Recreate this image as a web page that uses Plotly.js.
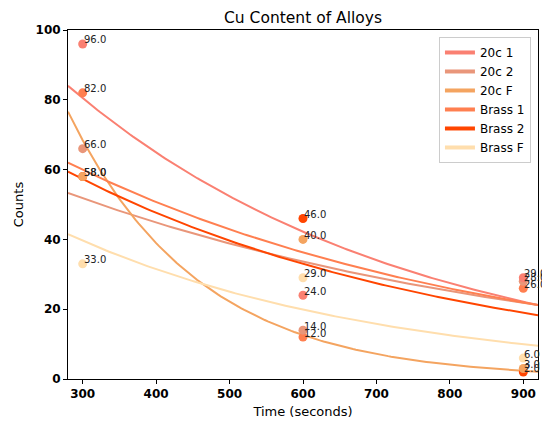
<!DOCTYPE html>
<html>
<head>
<meta charset="utf-8">
<script src="https://cdn.plot.ly/plotly-3.0.1.min.js"></script>
<style>
  html, body { margin: 0; padding: 0; background: #fff; }
  #chart { width: 542px; height: 424px; }
</style>
</head>
<body>
<div id="chart"></div>
<script>
// ---- data ----
const times = [300, 600, 900];
const seriesNames = ["20c 1", "20c 2", "20c F", "Brass 1", "Brass 2", "Brass F"];

const cu20c1 = [96, 24, 29];
const cu20c2 = [66, 14, 28];
const cu20cF = [58, 40, 3];
const cuBrass1 = [82, 12, 26];
const cuBrass2 = [58, 46, 2];
const cuBrassF = [33, 29, 6];

// exponential fit curves: value at t = 280 s and decay rate (1/s)
const fitAt280 = [84.0, 53.3, 76.6, 62.0, 59.4, 41.5];
const fitDecay = [0.002151, 0.001441, 0.00564, 0.001677, 0.00184, 0.002304];
const fitT0 = 280, fitT1 = 920;

// ---- styles ----
const colors = ["#fa8072", "#e9967a", "#f4a460", "#ff7f50", "#ff4500", "#ffdead"];
const allSeries = [cu20c1, cu20c2, cu20cF, cuBrass1, cuBrass2, cuBrassF];
const FONT = "DejaVu Sans, Verdana, sans-serif";

const traces = [];
const annotations = [];

// fitted curves
allSeries.forEach((vals, i) => {
  const xs = [], ys = [];
  for (let t = fitT0; t <= fitT1; t += 4) {
    xs.push(t);
    ys.push(fitAt280[i] * Math.exp(-fitDecay[i] * (t - fitT0)));
  }
  traces.push({
    x: xs, y: ys, type: "scatter", mode: "lines",
    line: { color: colors[i], width: 2 },
    showlegend: false, hoverinfo: "skip"
  });
});

// data points (drawing order chosen so overlaps look like the reference)
const drawOrder = [5, 4, 3, 1, 0, 2];
drawOrder.forEach(i => {
  traces.push({
    x: times, y: allSeries[i], type: "scatter", mode: "markers",
    marker: { color: colors[i], size: 9 },
    showlegend: false, cliponaxis: false
  });
  allSeries[i].forEach((v, j) => {
    annotations.push({
      x: times[j], y: v, xref: "x", yref: "y",
      text: v.toFixed(1), showarrow: false,
      xanchor: "left", yanchor: "middle", xshift: -1, yshift: 4,
      font: { family: FONT, size: 10, color: "#222" }
    });
  });
});

// legend entries (thicker line samples like the reference)
seriesNames.forEach((name, i) => {
  traces.push({
    x: [null], y: [null], type: "scatter", mode: "lines",
    name: name, line: { color: colors[i], width: 4 }
  });
});

const axisCommon = {
  showline: true, mirror: true, linecolor: "#000", linewidth: 1,
  ticks: "outside", ticklen: 4, tickwidth: 1, tickcolor: "#000",
  showgrid: false, zeroline: false,
  tickfont: { family: FONT, size: 12, color: "#000", weight: "bold" }
};

const layout = {
  width: 542, height: 424,
  margin: { l: 68, r: 4, t: 30, b: 45 },
  paper_bgcolor: "#fff", plot_bgcolor: "#fff",
  title: {
    text: "Cu Content of Alloys",
    font: { family: FONT, size: 15.5, color: "#000" },
    x: 0.5, xref: "paper", xanchor: "center",
    y: 1, yref: "paper", yanchor: "bottom", pad: { b: 7 }
  },
  xaxis: Object.assign({}, axisCommon, {
    range: [280, 920], tickvals: [300, 400, 500, 600, 700, 800, 900],
    title: { text: "Time (seconds)", font: { family: FONT, size: 13, color: "#000" }, standoff: 6 }
  }),
  yaxis: Object.assign({}, axisCommon, {
    range: [0, 100], tickvals: [0, 20, 40, 60, 80, 100],
    title: { text: "Counts", font: { family: FONT, size: 13, color: "#000" }, standoff: 8 }
  }),
  legend: {
    x: 0.985, xanchor: "right", y: 0.98, yanchor: "top",
    bgcolor: "#fff", bordercolor: "#cccccc", borderwidth: 1,
    font: { family: FONT, size: 12, color: "#000" },
    tracegroupgap: 0
  },
  showlegend: true,
  annotations: annotations
};

Plotly.newPlot("chart", traces, layout, { staticPlot: true, displayModeBar: false });
</script>
</body>
</html>
